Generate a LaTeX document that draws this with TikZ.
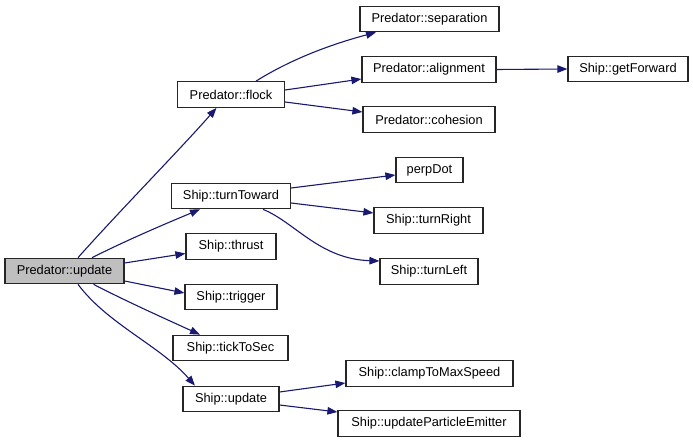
\documentclass[tikz,border=0pt]{standalone}
\usepackage{fontspec}
\setmainfont{Liberation Sans}
\usetikzlibrary{arrows.meta}
\definecolor{edgeblue}{HTML}{191970}
\definecolor{boxgray}{HTML}{BFBFBF}
\begin{document}
\begin{tikzpicture}[x=1pt,y=-1pt,
  fn/.style={draw=black!85,line width=1.2pt,fill=white,minimum height=25.5pt,inner sep=0pt,
    font=\fontsize{12.8}{14}\selectfont},
  cur/.style={fn,fill=boxgray},
  call/.style={draw=edgeblue,line width=1.1pt,-{Triangle[length=10pt,width=7.5pt]}}]
\useasboundingbox (0,0) rectangle (693,443);
% nodes
\node[cur,minimum width=119pt] (upd) at (64.5,271) {Predator::update};
\node[fn,minimum width=107pt] (flock) at (231,94.5) {Predator::flock};
\node[fn,minimum width=139pt] (sep) at (429.5,19) {Predator::separation};
\node[fn,minimum width=134pt] (ali) at (429,69.5) {Predator::alignment};
\node[fn,minimum width=132pt] (coh) at (429,119.5) {Predator::cohesion};
\node[fn,minimum width=120pt] (getf) at (628,69) {Ship::getForward};
\node[fn,minimum width=119pt] (tt) at (231,196) {Ship::turnToward};
\node[fn,minimum width=67pt] (perp) at (429.5,170) {perpDot};
\node[fn,minimum width=109pt] (tr) at (428.5,220.5) {Ship::turnRight};
\node[fn,minimum width=98pt] (tl) at (429,271.5) {Ship::turnLeft};
\node[fn,minimum width=90pt] (thr) at (231,246.5) {Ship::thrust};
\node[fn,minimum width=92pt] (trig) at (231,297) {Ship::trigger};
\node[fn,minimum width=115pt] (tick) at (230.5,348) {Ship::tickToSec};
\node[fn,minimum width=96pt] (supd) at (231,399) {Ship::update};
\node[fn,minimum width=167pt] (clamp) at (429.5,373.5) {Ship::clampToMaxSpeed};
\node[fn,minimum width=182pt] (upe) at (429,423.5) {Ship::updateParticleEmitter};
% edges from Predator::update
\draw[call] ([xshift=13.5pt]upd.north) .. controls +(40,-45) and +(-35,40) .. ([xshift=-14.5pt]flock.south);
\draw[call] ([xshift=27.5pt]upd.north) .. controls +(36,-18) and +(-36,15) .. ([xshift=-31pt]tt.south);
\draw[call] ([yshift=8pt]upd.east) -- ([yshift=-7pt]thr.west);
\draw[call] ([yshift=-10pt]upd.east) -- ([yshift=4pt]trig.west);
\draw[call] ([xshift=29pt]upd.south) .. controls +(35,18) and +(-35,-16) .. ([xshift=-30.5pt]tick.north);
\draw[call] ([xshift=13.5pt]upd.south) .. controls +(30,40) and +(-35,-40) .. ([xshift=-36pt]supd.north);
% edges from Predator::flock
\draw[call] ([xshift=25pt]flock.north) .. controls +(35,-22) and +(-45,12) .. ([xshift=-53.5pt]sep.south);
\draw[call] ([yshift=4.5pt]flock.east) -- ([yshift=-9.5pt]ali.west);
\draw[call] ([yshift=-7.5pt]flock.east) -- ([yshift=7.5pt]coh.west);
\draw[call] (ali.east) -- (getf.west);
% edges from Ship::turnToward
\draw[call] ([yshift=8pt]tt.east) -- ([yshift=-5pt]perp.west);
\draw[call] ([yshift=-7pt]tt.east) -- ([yshift=7.5pt]tr.west);
\draw[call] ([xshift=32pt]tt.south) .. controls +(32,13) and +(-60,-2) .. ([yshift=10.5pt]tl.west);
% edges from Ship::update
\draw[call] ([yshift=7pt]supd.east) -- ([yshift=-9.5pt]clamp.west);
\draw[call] ([yshift=-6pt]supd.east) -- ([yshift=11.5pt]upe.west);
\end{tikzpicture}
\end{document}
